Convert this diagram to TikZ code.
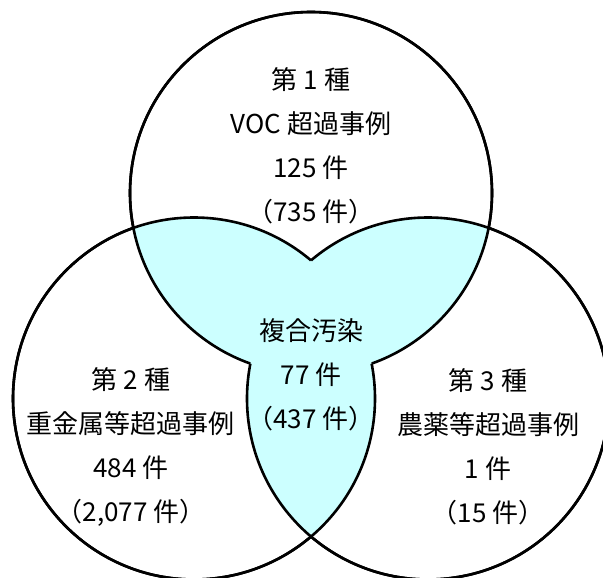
\documentclass[tikz,border=0pt]{standalone}
\usepackage{fontspec}
\setmainfont{Noto Sans CJK JP}
\usetikzlibrary{positioning}

\newcommand{\vennr}{181pt}

\begin{document}
\begin{tikzpicture}[x=1pt, y=-1pt,
    venn/.style={line width=2.6pt},
    overlap/.style={fill={rgb,255:red,204;green,255;blue,255}},
    label/.style={align=center, inner sep=0pt, font=\fontsize{26}{44}\selectfont}]
  \useasboundingbox (0,0) rectangle (603,578);

  % Centres
  \coordinate (c1) at (311,193);
  \coordinate (c2) at (194,398.5);
  \coordinate (c3) at (428,398.5);

  % Overlaps
  \begin{scope}
    \clip (c1) circle (\vennr);
    \fill[overlap] (c2) circle (\vennr);
    \fill[overlap] (c3) circle (\vennr);
  \end{scope}
  \begin{scope}
    \clip (c2) circle (\vennr);
    \fill[overlap] (c3) circle (\vennr);
  \end{scope}

  % Outlines
  \foreach \a/\b in {c1/c2, c1/c3, c2/c1, c2/c3, c3/c1, c3/c2} {
    \begin{scope}[even odd rule]
      \clip (-20,-20) rectangle (640,620) (\b) circle (\vennr);
      \draw[venn] (\a) circle (\vennr);
    \end{scope}
  }

  % Labels
  \node [label] (kind1) at (311,145.5) {第 1 種\\VOC 超過事例\\125 件\\（735 件）};
  \node [label] (kind2) at (131,447) {第 2 種\\重金属等超過事例\\484 件\\（2,077 件）};
  \node [label] (kind3) at (488,447) {第 3 種\\農薬等超過事例\\1 件\\（15 件）};
  \node [label] (multi) at (311,375) {複合汚染\\77 件\\（437 件）};
\end{tikzpicture}
\end{document}
